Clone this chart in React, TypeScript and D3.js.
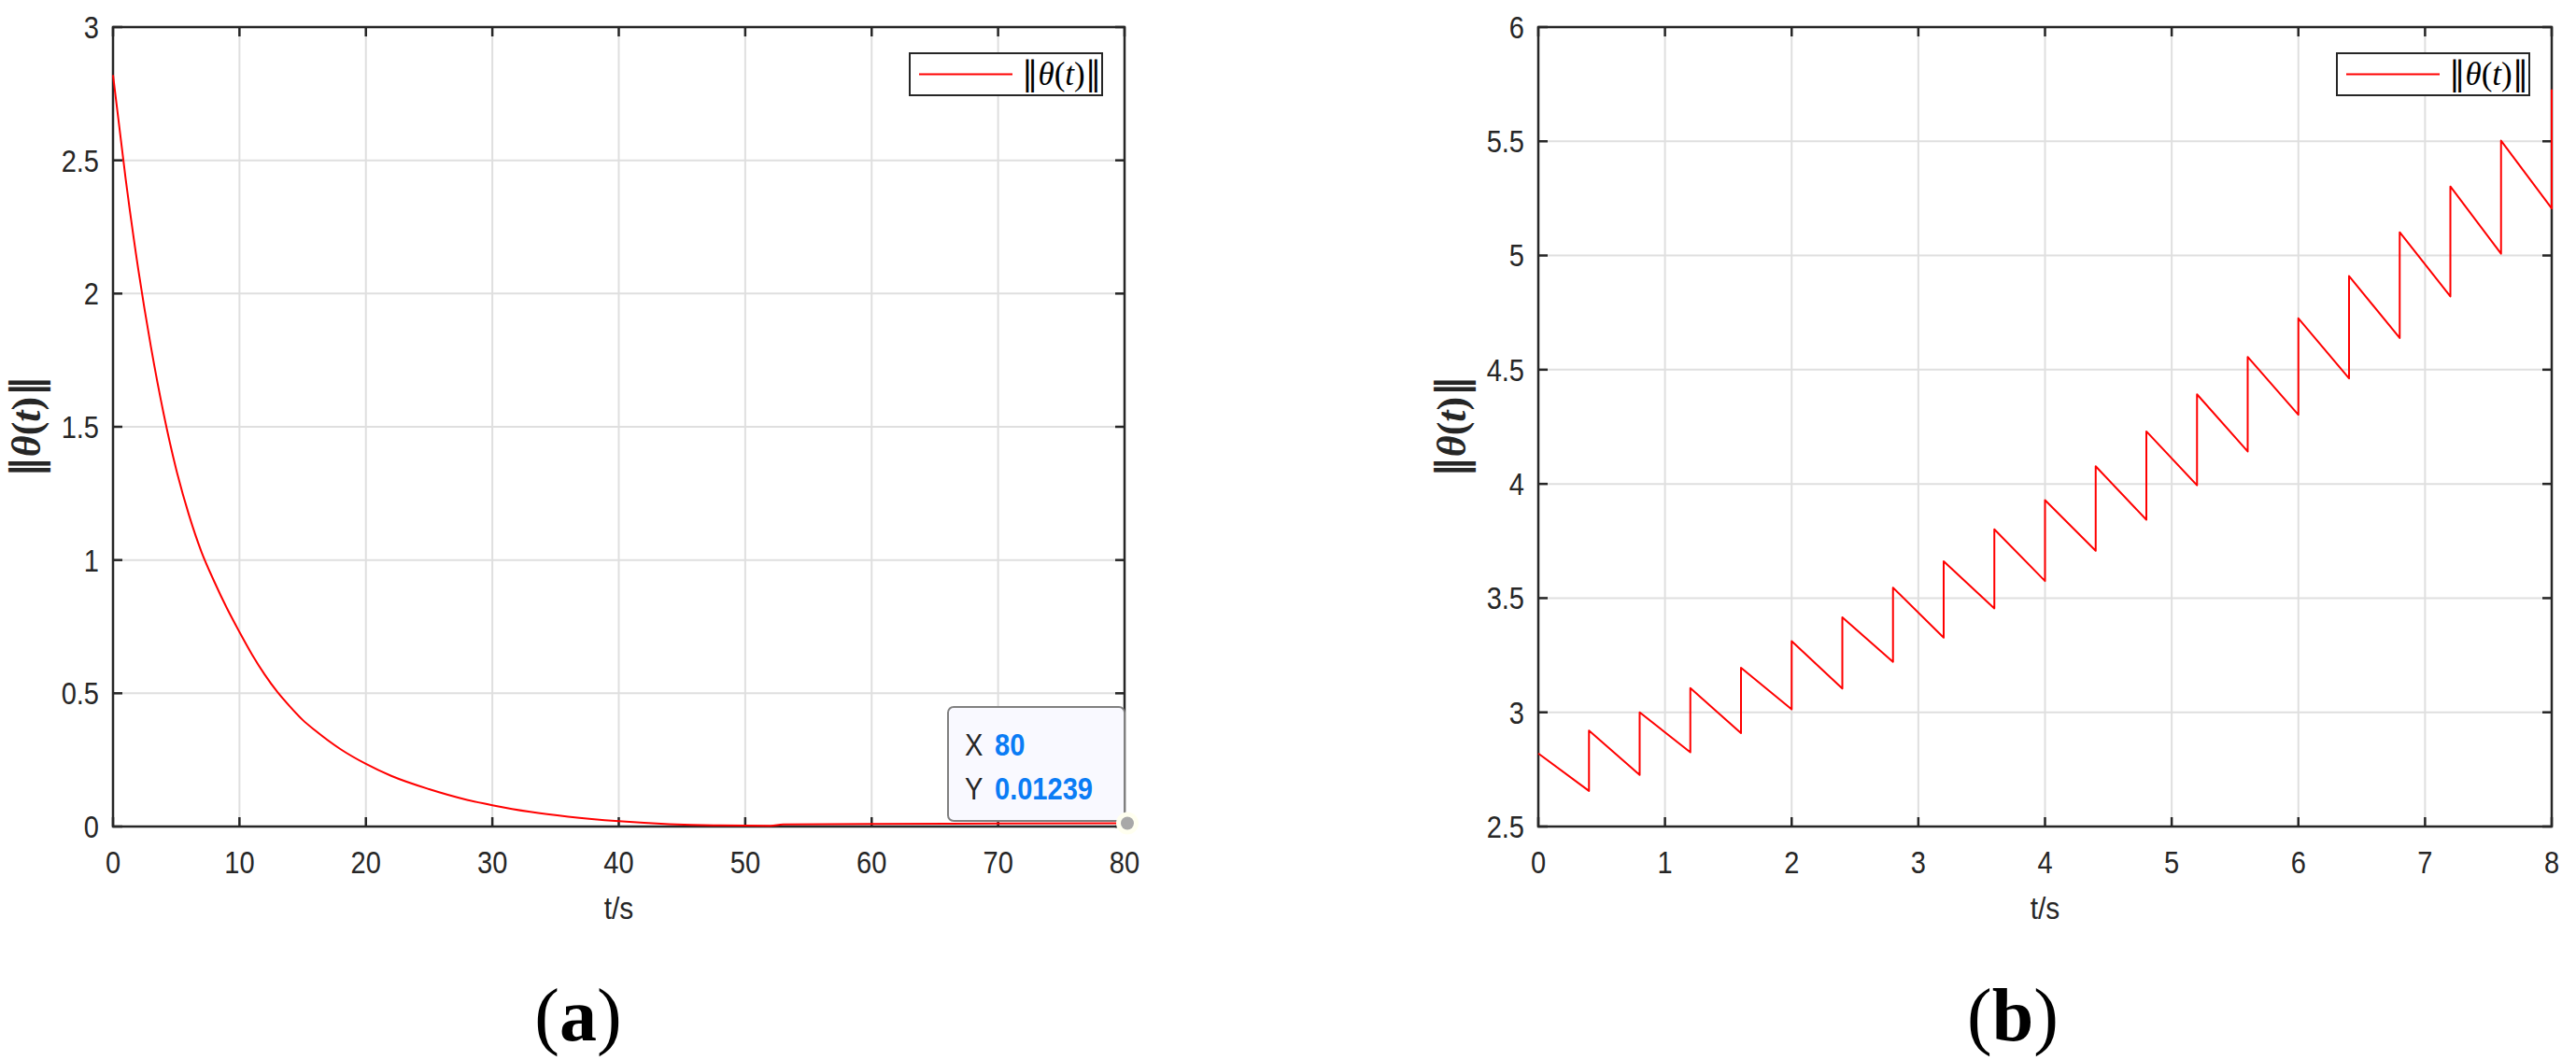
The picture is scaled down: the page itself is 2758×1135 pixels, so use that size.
import React, { useEffect } from 'react';
import * as d3 from 'd3';

// ---------- Data ----------
// Panel (a): decay of ||theta(t)||
const decayT = [0, 1, 2, 3, 4, 5, 6, 7, 8, 9, 10, 11, 12, 13, 14, 15, 16, 18, 20, 22, 25, 28, 30, 33, 36, 40, 44, 48, 52, 53, 60, 70, 80];
const decayV = [2.82, 2.43, 2.09, 1.8, 1.55, 1.34, 1.17, 1.03, 0.92, 0.82, 0.73, 0.645, 0.57, 0.505, 0.45, 0.4, 0.36, 0.29, 0.235, 0.19, 0.14, 0.1, 0.08, 0.055, 0.037, 0.02, 0.009, 0.004, 0.003, 0.008, 0.01, 0.011, 0.01239];

// Panel (b): sawtooth growth
const sawStart = 2.82;
const jumpTimes = [0.4, 0.8, 1.2, 1.6, 2.0, 2.4, 2.8, 3.2, 3.6, 4.0, 4.4, 4.8, 5.2, 5.6, 6.0, 6.4, 6.8, 7.2, 7.6, 8.0];
const troughs = [2.656, 2.726, 2.825, 2.909, 3.013, 3.104, 3.221, 3.327, 3.455, 3.575, 3.707, 3.843, 3.994, 4.142, 4.303, 4.462, 4.639, 4.821, 5.008, 5.206];
const peaks = [2.92, 3.0, 3.106, 3.195, 3.312, 3.416, 3.546, 3.661, 3.801, 3.929, 4.077, 4.23, 4.392, 4.556, 4.725, 4.91, 5.102, 5.302, 5.503, 5.727];

const xTicksA = [0, 10, 20, 30, 40, 50, 60, 70, 80];
const yTicksA = [0, 0.5, 1, 1.5, 2, 2.5, 3];
const xTicksB = [0, 1, 2, 3, 4, 5, 6, 7, 8];
const yTicksB = [2.5, 3, 3.5, 4, 4.5, 5, 5.5, 6];

const tipX = 80;
const tipY = 0.01239;

const xLabel = 't/s';
const panelLabels = ['a', 'b'];

// ---------- Styles ----------
const SANS = '"Liberation Sans", Arial, Helvetica, sans-serif';
const SERIF = '"Liberation Serif", "Times New Roman", serif';
const AXIS = '#262626';
const GRID = '#dfdfdf';
const RED = '#ff0000';
const TICK_FS = 33;
const SX = 0.88;

type PanelProps = {
  left: number; top: number; right: number; bottom: number;
  xDomain: [number, number]; yDomain: [number, number];
  xTicks: number[]; yTicks: number[];
  points: [number, number][];
  curve: d3.CurveFactory;
  tip?: boolean;
  label: string; labelX: number;
};

function NormLabel({ bold }: { bold: boolean }) {
  const fw = bold ? 'bold' : 'normal';
  return (
    <>
      <tspan fontWeight={fw} fontFamily="'DejaVu Serif', serif">‖</tspan>
      <tspan fontStyle="italic" fontWeight={fw}>θ</tspan>
      <tspan fontWeight={fw}>(</tspan>
      <tspan fontStyle="italic" fontWeight={fw}>t</tspan>
      <tspan fontWeight={fw}>)</tspan>
      <tspan fontWeight={fw} fontFamily="'DejaVu Serif', serif">‖</tspan>
    </>
  );
}

function SansText({ x, y, anchor, children, fs = TICK_FS, weight = 'normal', fill = AXIS, dy }: any) {
  return (
    <text transform={`translate(${x},${y}) scale(${SX},1)`} dy={dy} textAnchor={anchor} fontFamily={SANS}
      fontSize={fs} fontWeight={weight} fill={fill}>{children}</text>
  );
}

function Panel(p: PanelProps) {
  const x = d3.scaleLinear().domain(p.xDomain).range([p.left, p.right]);
  const y = d3.scaleLinear().domain(p.yDomain).range([p.bottom, p.top]);
  const line = d3.line<[number, number]>().x(d => x(d[0])).y(d => y(d[1])).curve(p.curve);
  const tl = 10;
  const legW = 206, legH = 45;
  const legX = p.right - 24 - legW;
  const legY = p.top + 28;
  const cx = (p.left + p.right) / 2;
  const cy = (p.top + p.bottom) / 2;

  return (
    <g>
      {p.xTicks.map((t, i) => (
        <line key={'gx' + i} x1={x(t)} x2={x(t)} y1={p.top} y2={p.bottom} stroke={GRID} strokeWidth={2} />
      ))}
      {p.yTicks.map((t, i) => (
        <line key={'gy' + i} x1={p.left} x2={p.right} y1={y(t)} y2={y(t)} stroke={GRID} strokeWidth={2} />
      ))}
      {p.xTicks.map((t, i) => (
        <g key={'tx' + i}>
          <line x1={x(t)} x2={x(t)} y1={p.bottom} y2={p.bottom - tl} stroke={AXIS} strokeWidth={2.5} />
          <line x1={x(t)} x2={x(t)} y1={p.top} y2={p.top + tl} stroke={AXIS} strokeWidth={2.5} />
          <SansText x={x(t)} y={p.bottom + 50} anchor="middle">{String(t)}</SansText>
        </g>
      ))}
      {p.yTicks.map((t, i) => (
        <g key={'ty' + i}>
          <line x1={p.left} x2={p.left + tl} y1={y(t)} y2={y(t)} stroke={AXIS} strokeWidth={2.5} />
          <line x1={p.right} x2={p.right - tl} y1={y(t)} y2={y(t)} stroke={AXIS} strokeWidth={2.5} />
          <SansText x={p.left - 15} y={y(t)} dy="0.36em" anchor="end">{String(t)}</SansText>
        </g>
      ))}
      <rect x={p.left} y={p.top} width={p.right - p.left} height={p.bottom - p.top} fill="none" stroke={AXIS} strokeWidth={2.5} />
      <path d={line(p.points) || ''} fill="none" stroke={RED} strokeWidth={2} strokeLinejoin="round" />
      <SansText x={cx} y={p.bottom + 99} anchor="middle" fs={34}>{xLabel}</SansText>
      <text transform={`translate(${p.left - 93},${cy}) rotate(-90)`} textAnchor="middle" dy="0.35em" fontFamily={SERIF} fontSize={44} fill={AXIS}>
        <NormLabel bold={true} />
      </text>
      <rect x={legX} y={legY} width={legW} height={legH} fill="#ffffff" stroke={AXIS} strokeWidth={2} />
      <line x1={legX + 10} x2={legX + 110} y1={legY + legH / 2} y2={legY + legH / 2} stroke={RED} strokeWidth={2} />
      <text x={legX + 120} y={legY + legH / 2} dy="0.33em" fontFamily={SERIF} fontSize={35} fill="#000">
        <NormLabel bold={false} />
      </text>
      {p.tip && (
        <g>
          <rect x={x(tipX) - 189} y={757} width={189} height={122} rx={6} ry={6} fill="#f9f9ff" stroke="#808080" strokeWidth={2} />
          <SansText x={x(tipX) - 171} y={809} fs={33}>X</SansText>
          <SansText x={x(tipX) - 139} y={809} fs={33} weight="bold" fill="#0a7cf5">{String(tipX)}</SansText>
          <SansText x={x(tipX) - 171} y={856} fs={33}>Y</SansText>
          <SansText x={x(tipX) - 139} y={856} fs={33} weight="bold" fill="#0a7cf5">{String(tipY)}</SansText>
          <circle cx={x(tipX) + 3} cy={y(tipY)} r={12} fill="#fffff0" />
          <circle cx={x(tipX) + 3} cy={y(tipY)} r={7} fill="#a8a8a8" />
        </g>
      )}
      <text x={p.labelX} y={1114} textAnchor="middle" fontFamily={SERIF} fontSize={80} fill="#000">
        <tspan>(</tspan><tspan fontWeight="bold">{p.label}</tspan><tspan>)</tspan>
      </text>
    </g>
  );
}

export default function App() {
  useEffect(() => {
    document.body.style.margin = '0';
  }, []);

  const ptsA: [number, number][] = decayT.map((t, i) => [t, decayV[i]]);
  const ptsB: [number, number][] = [[0, sawStart]];
  jumpTimes.forEach((t, i) => {
    ptsB.push([t, troughs[i]]);
    ptsB.push([t, peaks[i]]);
  });

  return (
    <svg width={2758} height={1135} style={{ position: 'absolute', left: 0, top: 0, background: '#fff' }}>
      <rect width={2758} height={1135} fill="#fff" />
      <Panel left={121} top={29} right={1204} bottom={885} xDomain={[0, 80]} yDomain={[0, 3]}
        xTicks={xTicksA} yTicks={yTicksA} points={ptsA} curve={d3.curveMonotoneX} tip={true} label={panelLabels[0]} labelX={619} />
      <Panel left={1647} top={29} right={2732} bottom={885} xDomain={[0, 8]} yDomain={[2.5, 6]}
        xTicks={xTicksB} yTicks={yTicksB} points={ptsB} curve={d3.curveLinear} label={panelLabels[1]} labelX={2155} />
    </svg>
  );
}
